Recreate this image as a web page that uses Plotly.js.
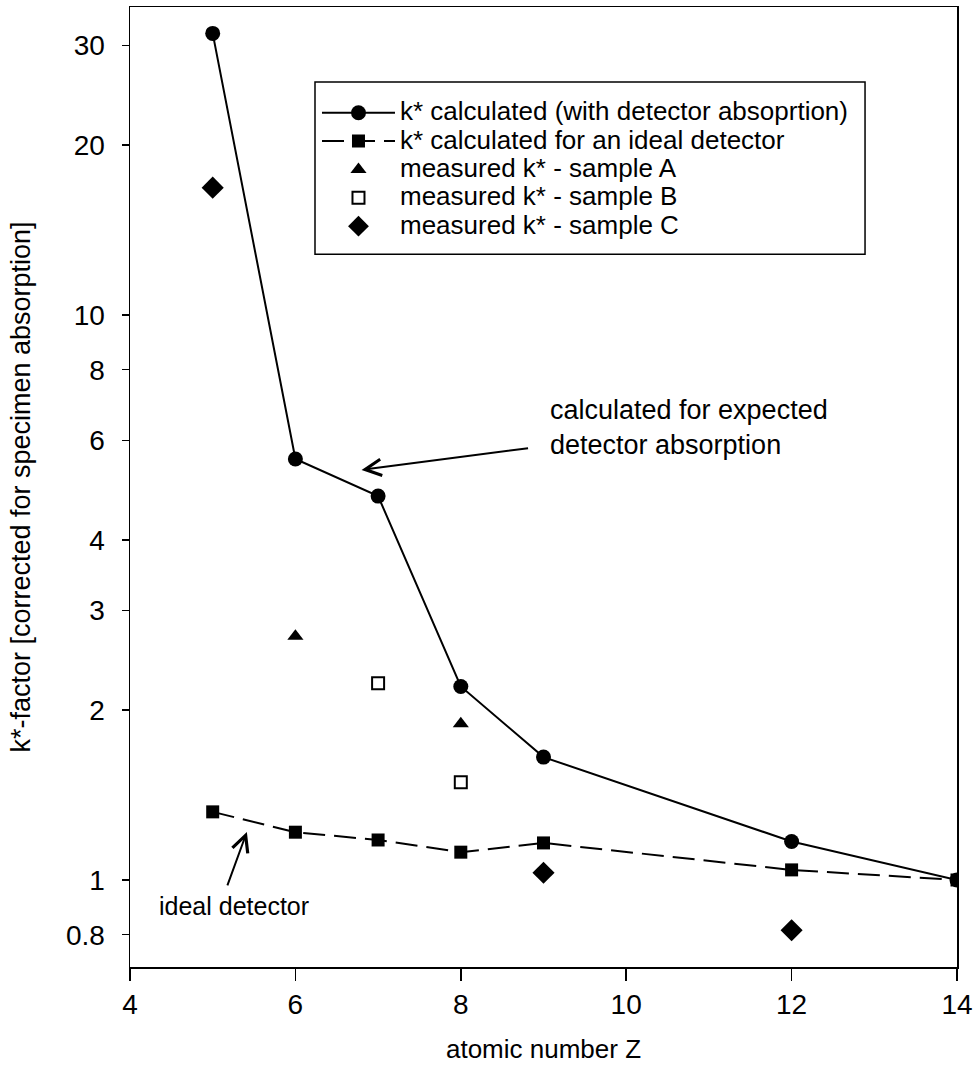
<!DOCTYPE html>
<html>
<head>
<meta charset="utf-8">
<script src="https://cdn.plot.ly/plotly-3.0.1.min.js"></script>
<style>
  html, body { margin: 0; padding: 0; background: #fff; }
  #chart { width: 974px; height: 1074px; }
</style>
</head>
<body>
<div id="chart"></div>
<script>
// atomic number Z of the analysed elements
const zCalc = [5, 6, 7, 8, 9, 12, 14];
// k* calculated with detector absorption
const kDetector = [31.5, 5.56, 4.78, 2.2, 1.65, 1.17, 1.0];
// k* calculated for an ideal detector
const kIdeal = [1.32, 1.215, 1.177, 1.12, 1.163, 1.042, 1.0];
// measured k*, sample A
const zA = [6, 8];
const kA = [2.7, 1.89];
// measured k*, sample B
const zB = [7, 8];
const kB = [2.23, 1.49];
// measured k*, sample C
const zC = [5, 9, 12];
const kC = [16.8, 1.03, 0.815];

const yTicks = [0.8, 1, 2, 3, 4, 6, 8, 10, 20, 30];
const yTickText = ['0.8', '1', '2', '3', '4', '6', '8', '10', '20', '30'];
const yDecades = [1, 10];
const xTicks = [4, 6, 8, 10, 12, 14];

const seriesNames = [
  'k* calculated (with detector absoprtion)',
  'k* calculated for an ideal detector',
  'measured k* - sample A',
  'measured k* - sample B',
  'measured k* - sample C'
];

const FONT = 'Liberation Sans, Arial, Helvetica, sans-serif';
const yRange = [-0.154, 1.545];

// legend rows are spaced by the small base size, text drawn larger
const legendLabel = s => '<span style="font-size:26px">' + s + '</span>';

const traces = [
  {
    x: zCalc, y: kDetector, type: 'scatter', mode: 'lines+markers',
    name: legendLabel(seriesNames[0]),
    line: { color: '#000', width: 2 },
    marker: { symbol: 'circle', size: 15, color: '#000' }
  },
  {
    x: zCalc, y: kIdeal, type: 'scatter', mode: 'lines+markers',
    name: legendLabel(seriesNames[1]),
    line: { color: '#000', width: 2, dash: '22px,9px' },
    marker: { symbol: 'square', size: 13, color: '#000' }
  },
  {
    x: zA, y: kA, type: 'scatter', mode: 'markers',
    name: legendLabel(seriesNames[2]),
    marker: { symbol: 'triangle-up', size: 14, color: '#000' }
  },
  {
    x: zB, y: kB, type: 'scatter', mode: 'markers',
    name: legendLabel(seriesNames[3]),
    marker: { symbol: 'square-open', size: 12, color: '#000', line: { width: 2, color: '#000' } }
  },
  {
    x: zC, y: kC, type: 'scatter', mode: 'markers',
    name: legendLabel(seriesNames[4]),
    marker: { symbol: 'diamond', size: 17, color: '#000' }
  }
];

const layout = {
  width: 974, height: 1074,
  paper_bgcolor: '#fff', plot_bgcolor: '#fff',
  margin: { l: 130, r: 17, t: 7, b: 107 },
  font: { family: FONT, size: 24, color: '#000' },
  showlegend: true,
  legend: {
    x: 0.2261, y: 0.9098, xanchor: 'left', yanchor: 'top',
    borderwidth: 0, bgcolor: 'rgba(0,0,0,0)',
    font: { family: FONT, size: 19.5, color: '#000' },
    itemwidth: 73, tracegroupgap: 0
  },
  // frame around the legend
  shapes: [
    {
      type: 'rect', xref: 'paper', yref: 'paper', layer: 'below',
      x0: 0.2237, x1: 0.8888, y0: 0.7424, y1: 0.9218,
      line: { color: '#000', width: 1.5 }, fillcolor: 'rgba(0,0,0,0)'
    }
  ],
  xaxis: {
    range: [4, 14], tickvals: xTicks, ticks: 'outside', ticklen: 12, tickwidth: 1.5,
    tickcolor: '#000', showline: true, linecolor: '#000', linewidth: 1.5, mirror: true,
    showgrid: false, zeroline: false, ticklabelstandoff: 0,
    tickfont: { family: FONT, size: 28, color: '#000' },
    title: { text: 'atomic number Z', standoff: 20, font: { family: FONT, size: 26, color: '#000' } },
    automargin: false
  },
  yaxis: {
    type: 'log', range: yRange, tickvals: yTicks, ticktext: yTickText,
    ticks: 'outside', ticklen: 7, tickwidth: 1.5, tickcolor: '#000',
    showline: true, linecolor: '#000', linewidth: 1.5, mirror: true,
    showgrid: false, zeroline: false, ticklabelstandoff: 11,
    tickfont: { family: FONT, size: 28, color: '#000' },
    title: { text: 'k*-factor [corrected for specimen absorption]', standoff: 27, font: { family: FONT, size: 27, color: '#000' } },
    automargin: false
  },
  // longer marks at the decades
  yaxis2: {
    type: 'log', range: yRange, overlaying: 'y', side: 'left',
    tickvals: yDecades, ticks: 'outside', ticklen: 14, tickwidth: 1.5, tickcolor: '#000',
    showticklabels: false, showgrid: false, zeroline: false, showline: false,
    automargin: false
  },
  annotations: [
    {
      xref: 'x', yref: 'y', x: 9.05, y: 0.80,
      xanchor: 'left', yanchor: 'middle', align: 'left', showarrow: false,
      text: 'calculated for expected<br>detector absorption',
      font: { family: FONT, size: 27, color: '#000' }
    },
    {
      xref: 'x', yref: 'y', x: 6.80, y: 0.7257, text: '',
      showarrow: true, arrowhead: 5, arrowsize: 1.6, arrowwidth: 2, arrowcolor: '#000',
      ax: 168, ay: -22
    },
    {
      xref: 'x', yref: 'y', x: 4.326, y: -0.046,
      xanchor: 'left', yanchor: 'middle', align: 'left', showarrow: false,
      text: 'ideal detector',
      font: { family: FONT, size: 25, color: '#000' }
    },
    {
      xref: 'x', yref: 'y', x: 5.413, y: 0.085, text: '',
      showarrow: true, arrowhead: 5, arrowsize: 1.6, arrowwidth: 2, arrowcolor: '#000',
      ax: -20, ay: 55
    }
  ]
};

Plotly.newPlot('chart', traces, layout, { staticPlot: true, displayModeBar: false });
</script>
</body>
</html>
